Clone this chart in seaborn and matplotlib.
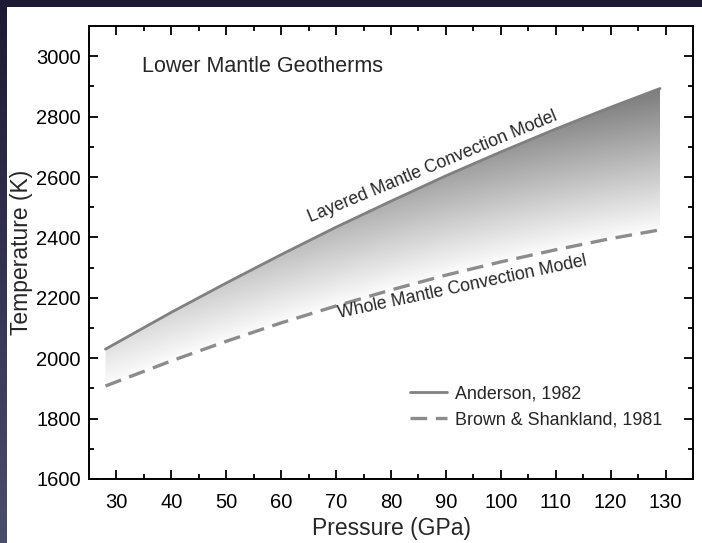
import numpy as np
import pandas as pd
import matplotlib
matplotlib.use("Agg")
import matplotlib.pyplot as plt
from matplotlib.lines import Line2D
from matplotlib.patches import Rectangle
from matplotlib.colors import LinearSegmentedColormap
import seaborn as sns

# ---- data ----
pressure = [28, 40, 50, 60, 70, 80, 90, 100, 110, 120, 129]
anderson_T = [2030, 2152, 2249, 2343, 2434, 2520, 2604, 2683, 2759, 2831, 2893]
brown_T = [1908, 1991, 2056, 2117, 2173, 2226, 2275, 2319, 2359, 2396, 2425]
x_ticks = [30, 40, 50, 60, 70, 80, 90, 100, 110, 120, 130]
y_ticks = [1600, 1800, 2000, 2200, 2400, 2600, 2800, 3000]
labels = ["Anderson, 1982", "Brown & Shankland, 1981"]

sns.set_theme(style="ticks")
plt.rcParams['font.family'] = ['Liberation Sans', 'DejaVu Sans']

fig = plt.figure(figsize=(7.02, 5.43), dpi=100)
fig.patch.set_facecolor("white")

# background frame: dark band top and left
bg = fig.add_axes([0, 0, 1, 1], zorder=-10)
bg.set_axis_off()
grad = np.linspace(0, 1, 256)[:, None]
bgcmap = LinearSegmentedColormap.from_list("bg", ["#1d1a33", "#4c4d6c"])
bg.imshow(grad, aspect="auto", cmap=bgcmap, extent=[0, 1, 0, 1], origin="upper")
bg.add_patch(Rectangle((7 / 702, 0), 1, 1 - 7 / 543, transform=bg.transAxes,
                       facecolor="white", edgecolor="none"))
bg.set_xlim(0, 1); bg.set_ylim(0, 1)

ax = fig.add_axes([89 / 702, 64 / 543, 604 / 702, 453 / 543])
ax.set_facecolor("none")

df = pd.DataFrame({"P": pressure, "A": anderson_T, "B": brown_T})

# gradient fill between the two geotherms
P = np.array(pressure, float)
A = np.array(anderson_T, float)
B = np.array(brown_T, float)
pg = np.linspace(P.min(), P.max(), 400)
tg = np.linspace(B.min(), A.max(), 400)
PP, TT = np.meshgrid(pg, tg)
lo = np.interp(PP, P, B)
hi = np.interp(PP, P, A)
frac = np.clip((TT - lo) / (hi - lo), 0, 1)
pos = (PP - P.min()) / (P.max() - P.min())
dark = frac * (0.10 + 0.40 * pos)
gray = 0.985 - dark
img = ax.imshow(gray, cmap="gray", vmin=0, vmax=1, origin="lower",
                extent=[pg[0], pg[-1], tg[0], tg[-1]], aspect="auto",
                interpolation="bilinear", zorder=1)
poly = ax.fill_between(P, B, A, facecolor="none", edgecolor="none")
img.set_clip_path(poly.get_paths()[0], transform=ax.transData)

sns.lineplot(data=df, x="P", y="A", ax=ax, color="#808080", lw=2.0, zorder=3)
sns.lineplot(data=df, x="P", y="B", ax=ax, color="#8c8c8c", lw=2.4,
             linestyle=(0, (5, 2.6)), zorder=3)

ax.set_xlim(25, 135)
ax.set_ylim(1600, 3100)
ax.set_xticks(x_ticks)
ax.set_yticks(y_ticks)
ax.set_xticks(np.arange(35, 135, 10), minor=True)
ax.set_yticks(np.arange(1700, 3100, 200), minor=True)
ax.tick_params(which="both", direction="in", top=True, right=True,
               labelsize=14.5, colors="black", width=1.3)
ax.tick_params(which="major", length=6.5)
ax.tick_params(which="minor", length=3.5)
ax.tick_params(axis="x", which="major", pad=10)
ax.tick_params(axis="y", which="major", pad=6)
for s in ax.spines.values():
    s.set_linewidth(1.4)
    s.set_color("black")
    s.set_visible(True)

ax.set_xlabel("Pressure (GPa)", fontsize=16.5, labelpad=4)
ax.set_ylabel("Temperature (K)", fontsize=16.5, labelpad=2)

ax.text(0.087, 0.91, "Lower Mantle Geotherms", transform=ax.transAxes,
        fontsize=15.5, ha="left", va="center")
ax.text(87.5, 2632, "Layered Mantle Convection Model", rotation=22.5,
        fontsize=12.7, ha="center", va="center", rotation_mode="anchor")
ax.text(93, 2236, "Whole Mantle Convection Model", rotation=12,
        fontsize=12.7, ha="center", va="center", rotation_mode="anchor")

handles = [Line2D([], [], color="#808080", lw=2.0),
           Line2D([], [], color="#8c8c8c", lw=2.4, linestyle=(0, (5, 2.6)))]
ax.legend(handles, labels, loc="upper left", bbox_to_anchor=(0.531, 0.207),
          frameon=False, fontsize=12.9, handlelength=2.1, handletextpad=0.4,
          borderpad=0, borderaxespad=0, labelspacing=0.5)

fig.savefig("out.png", dpi=100)
